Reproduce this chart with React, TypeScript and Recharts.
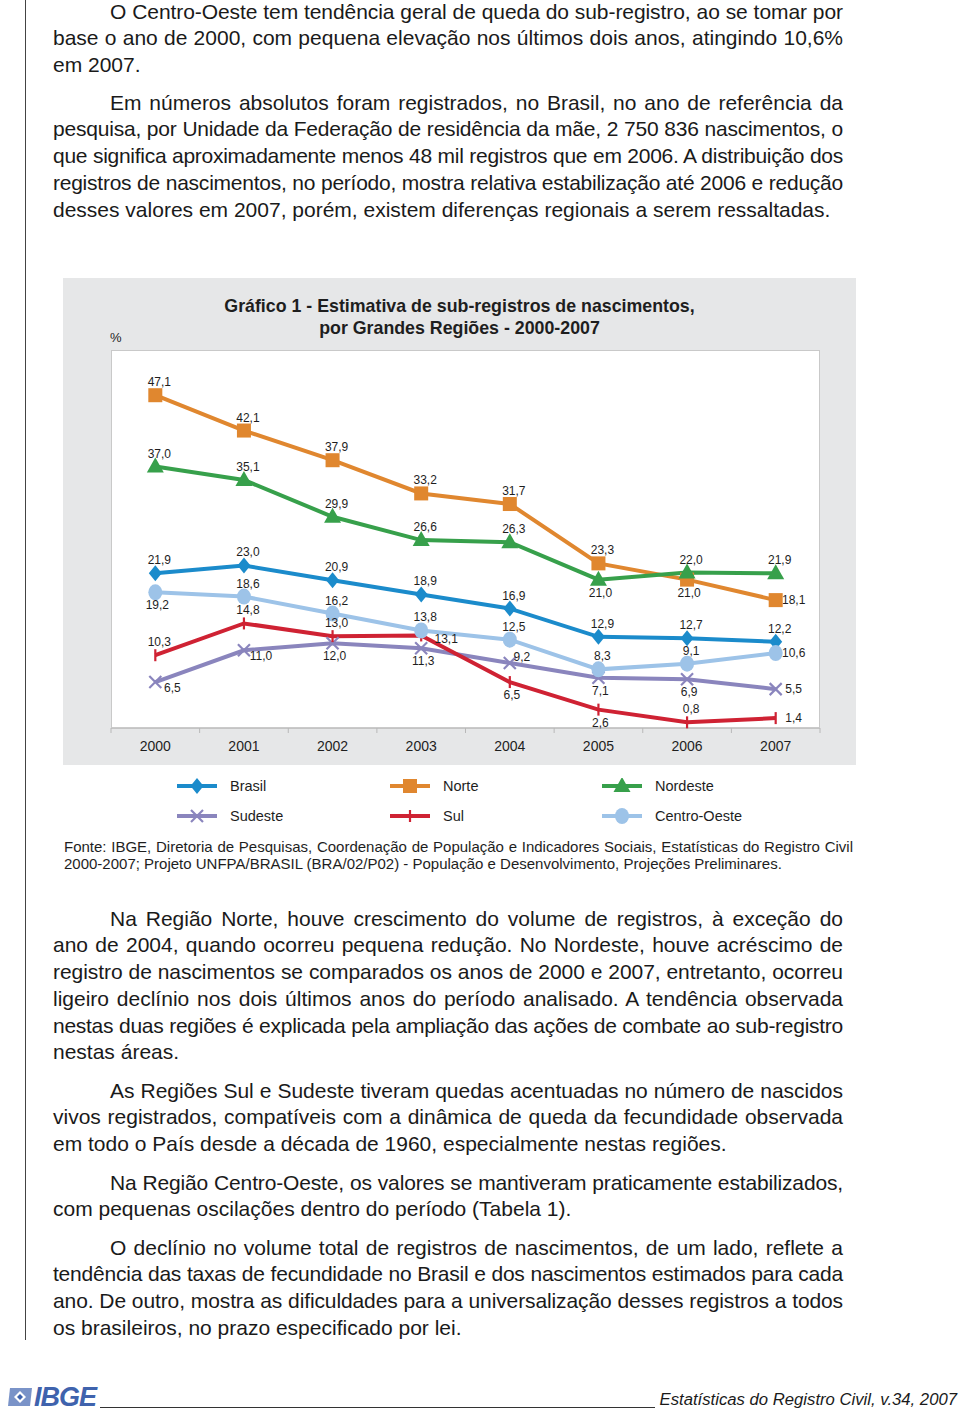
import React, { useLayoutEffect, useRef, useState } from 'react';
import { LineChart, Line, XAxis, YAxis, CartesianGrid, LabelList } from 'recharts';

const years = ['2000', '2001', '2002', '2003', '2004', '2005', '2006', '2007'];
const brasil = [21.9, 23.0, 20.9, 18.9, 16.9, 12.9, 12.7, 12.2];
const norte = [47.1, 42.1, 37.9, 33.2, 31.7, 23.3, 21.0, 18.1];
const nordeste = [37.0, 35.1, 29.9, 26.6, 26.3, 21.0, 22.0, 21.9];
const sudeste = [6.5, 11.0, 12.0, 11.3, 9.2, 7.1, 6.9, 5.5];
const sul = [10.3, 14.8, 13.0, 13.1, 6.5, 2.6, 0.8, 1.4];
const centroOeste = [19.2, 18.6, 16.2, 13.8, 12.5, 8.3, 9.1, 10.6];

const data = years.map((year, i) => ({
  year,
  brasil: brasil[i],
  norte: norte[i],
  nordeste: nordeste[i],
  sudeste: sudeste[i],
  sul: sul[i],
  centroOeste: centroOeste[i],
}));

// where each value label sits relative to its point
const LABEL_OFFSETS: Record<string, [number, number]> = {
  top: [4, -13],
  bottom: [2, 13],
  right: [18, 0],
  farRight: [25, 4],
  rightBelow: [17, 6],
  rightAbove: [12, -6],
};

const SERIES = [
  { key: 'brasil', name: 'Brasil', color: '#1b8bcb', shape: 'diamond',
    labels: ['top', 'top', 'top', 'top', 'top', 'top', 'top', 'top'] },
  { key: 'norte', name: 'Norte', color: '#e0872f', shape: 'square',
    labels: ['top', 'top', 'top', 'top', 'top', 'top', 'bottom', 'right'] },
  { key: 'nordeste', name: 'Nordeste', color: '#37a04b', shape: 'triangle',
    labels: ['top', 'top', 'top', 'top', 'top', 'bottom', 'top', 'top'] },
  { key: 'sudeste', name: 'Sudeste', color: '#8a85bd', shape: 'cross',
    labels: ['rightBelow', 'rightBelow', 'bottom', 'bottom', 'rightAbove', 'bottom', 'bottom', 'right'] },
  { key: 'sul', name: 'Sul', color: '#cf2233', shape: 'plus',
    labels: ['top', 'top', 'top', 'farRight', 'bottom', 'bottom', 'top', 'right'] },
  { key: 'centroOeste', name: 'Centro-Oeste', color: '#9dc3e8', shape: 'circle',
    labels: ['bottom', 'top', 'top', 'top', 'top', 'top', 'top', 'right'] },
];

const CHART_W = 793;
const CHART_H = 487;
const MARGIN = { top: 72, right: 36, bottom: 0, left: 48 };
const PLOT_W = CHART_W - MARGIN.left - MARGIN.right;
const HALF_BAND = PLOT_W / years.length / 2;

const FONT = '"Liberation Sans", Arial, sans-serif';

function Marker({ cx, cy, shape, color }: any) {
  if (cx == null || cy == null) return null;
  switch (shape) {
    case 'diamond':
      return <path d={`M${cx},${cy - 8} L${cx + 6.5},${cy} L${cx},${cy + 8} L${cx - 6.5},${cy} Z`} fill={color} />;
    case 'square':
      return <rect x={cx - 7} y={cy - 7} width={14} height={14} fill={color} />;
    case 'triangle':
      return <path d={`M${cx},${cy - 9} L${cx + 8.5},${cy + 6} L${cx - 8.5},${cy + 6} Z`} fill={color} />;
    case 'circle':
      return <ellipse cx={cx} cy={cy} rx={7} ry={8} fill={color} />;
    case 'cross':
      return (
        <g stroke={color} strokeWidth={2.2}>
          <line x1={cx - 6} y1={cy - 6} x2={cx + 6} y2={cy + 6} />
          <line x1={cx - 6} y1={cy + 6} x2={cx + 6} y2={cy - 6} />
        </g>
      );
    case 'plus':
      return <line x1={cx} y1={cy - 6} x2={cx} y2={cy + 6} stroke={color} strokeWidth={2.2} />;
    default:
      return null;
  }
}

const fmt = (v: number) => v.toFixed(1).replace('.', ',');

function makeLabel(placements: string[]) {
  return (props: any) => {
    const { x, y, value, index } = props;
    if (x == null || y == null) return null;
    const [dx, dy] = LABEL_OFFSETS[placements[index]] ?? LABEL_OFFSETS.top;
    return (
      <text x={x + dx} y={y + dy} textAnchor="middle" dominantBaseline="central"
        fontSize={12} fill="#1e1e1e" fontFamily={FONT}>
        {fmt(Number(value))}
      </text>
    );
  };
}

function YearTick({ x, y, payload, index }: any) {
  const last = index === years.length - 1;
  return (
    <g>
      <line x1={x - HALF_BAND} x2={x - HALF_BAND} y1={y} y2={y + 5} stroke="#b8b8b8" />
      {last && <line x1={x + HALF_BAND} x2={x + HALF_BAND} y1={y} y2={y + 5} stroke="#b8b8b8" />}
      <text x={x} y={y + 18} textAnchor="middle" dominantBaseline="central" fontSize={14}
        fill="#1e1e1e" fontFamily={FONT}>
        {payload.value}
      </text>
    </g>
  );
}

function LegendSwatch({ color, shape }: any) {
  return (
    <svg width={40} height={16} style={{ display: 'block' }}>
      <line x1={0} x2={40} y1={8} y2={8} stroke={color} strokeWidth={4} />
      <Marker cx={20} cy={8} shape={shape} color={color} />
    </svg>
  );
}

// one typeset line: justified, squeezed a little when it would not fit
function FitLine({ text, width, indent, justify, fontSize, lineHeight }: any) {
  const probe = useRef<HTMLSpanElement>(null);
  const [spacing, setSpacing] = useState(0);
  useLayoutEffect(() => {
    const el = probe.current;
    if (!el) return;
    const w = el.getBoundingClientRect().width;
    const avail = width - indent;
    if (w > avail - 2) setSpacing((avail - 2 - w) / text.length);
  }, [text, width, indent]);
  return (
    <div style={{
      position: 'relative', height: lineHeight, lineHeight: `${lineHeight}px`, whiteSpace: 'nowrap',
      paddingLeft: indent, fontSize, letterSpacing: spacing,
      textAlign: 'justify', textAlignLast: justify ? 'justify' : 'left',
    } as any}>
      {text}
      <span ref={probe} style={{ position: 'absolute', left: 0, top: 0, visibility: 'hidden', letterSpacing: 0 }}>{text}</span>
    </div>
  );
}

function Para({ top, lines }: { top: number; lines: string[] }) {
  return (
    <div style={{ position: 'absolute', left: 53, top, width: 790, fontFamily: FONT, color: '#1a1a1a' }}>
      {lines.map((line, i) => (
        <FitLine key={i} text={line} width={790} indent={i === 0 ? 57 : 0}
          justify={i !== lines.length - 1} fontSize={21} lineHeight={26.8} />
      ))}
    </div>
  );
}

const para1 = [
  'O Centro-Oeste tem tendência geral de queda do sub-registro, ao se tomar por',
  'base o ano de 2000, com pequena elevação nos últimos dois anos, atingindo 10,6%',
  'em 2007.',
];
const para2 = [
  'Em números absolutos foram registrados, no Brasil, no ano de referência da',
  'pesquisa, por Unidade da Federação de residência da mãe, 2 750 836 nascimentos, o',
  'que significa aproximadamente menos 48 mil registros que em 2006. A distribuição dos',
  'registros de nascimentos, no período, mostra relativa estabilização até 2006 e redução',
  'desses valores em 2007, porém, existem diferenças regionais a serem ressaltadas.',
];
const para3 = [
  'Na Região Norte, houve crescimento do volume de registros, à exceção do',
  'ano de 2004, quando ocorreu pequena redução. No Nordeste, houve acréscimo de',
  'registro de nascimentos se comparados os anos de 2000 e 2007, entretanto, ocorreu',
  'ligeiro declínio nos dois últimos anos do período analisado. A tendência observada',
  'nestas duas regiões é explicada pela ampliação das ações de combate ao sub-registro',
  'nestas áreas.',
];
const para4 = [
  'As Regiões Sul e Sudeste tiveram quedas acentuadas no número de nascidos',
  'vivos registrados, compatíveis com a dinâmica de queda da fecundidade observada',
  'em todo o País desde a década de 1960, especialmente nestas regiões.',
];
const para5 = [
  'Na Região Centro-Oeste, os valores se mantiveram praticamente estabilizados,',
  'com pequenas oscilações dentro do período (Tabela 1).',
];
const para6 = [
  'O declínio no volume total de registros de nascimentos, de um lado, reflete a',
  'tendência das taxas de fecundidade no Brasil e dos nascimentos estimados para cada',
  'ano. De outro, mostra as dificuldades para a universalização desses registros a todos',
  'os brasileiros, no prazo especificado por lei.',
];

const sourceLines = [
  'Fonte: IBGE, Diretoria de Pesquisas, Coordenação de População e Indicadores Sociais, Estatísticas do Registro Civil',
  '2000-2007; Projeto UNFPA/BRASIL (BRA/02/P02) - População e Desenvolvimento, Projeções Preliminares.',
];

export default function App() {
  return (
    <div style={{ position: 'absolute', left: 0, top: 0, width: 960, height: 1415, background: '#fff', overflow: 'hidden' }}>
      <div style={{ position: 'absolute', left: 25, top: 0, width: 1, height: 1340, background: '#444' }} />

      <Para top={-1.5} lines={para1} />
      <Para top={89.5} lines={para2} />

      {/* chart panel */}
      <div style={{ position: 'absolute', left: 63, top: 278, width: CHART_W, height: CHART_H, background: '#e6e7e8' }}>
        <div style={{
          position: 'absolute', left: 0, top: 17, width: CHART_W, textAlign: 'center',
          fontFamily: FONT, fontWeight: 700, fontSize: 17.8, lineHeight: '22px', color: '#1e1e1e',
        }}>
          <div>Gráfico 1 - Estimativa de sub-registros de nascimentos,</div>
          <div>por Grandes Regiões - 2000-2007</div>
        </div>
        <div style={{ position: 'absolute', left: 47, top: 52, fontFamily: FONT, fontSize: 13, color: '#1e1e1e' }}>%</div>
        <LineChart width={CHART_W} height={CHART_H} data={data} margin={MARGIN}>
          <CartesianGrid horizontal={false} vertical={false} fill="#ffffff" />
          <XAxis dataKey="year" height={37} tickSize={0} tickMargin={0} tickLine={false}
            axisLine={{ stroke: '#b8b8b8', strokeWidth: 1.5 }}
            padding={{ left: HALF_BAND, right: HALF_BAND }} tick={<YearTick />} interval={0} />
          <YAxis hide domain={[0, 53.5]} />
          {SERIES.map((s) => (
            <Line key={s.key} dataKey={s.key} name={s.name} stroke={s.color} strokeWidth={4}
              isAnimationActive={false}
              dot={(p: any) => <Marker key={`${s.key}-${p.index}`} cx={p.cx} cy={p.cy} shape={s.shape} color={s.color} />}
              activeDot={false}>
              <LabelList dataKey={s.key} content={makeLabel(s.labels)} />
            </Line>
          ))}
        </LineChart>
        <div style={{
          position: 'absolute', left: MARGIN.left, top: MARGIN.top, width: PLOT_W, height: CHART_H - MARGIN.top - 37,
          borderTop: '1px solid #c9c9c9', borderLeft: '1px solid #c9c9c9', borderRight: '1px solid #c9c9c9',
          boxSizing: 'border-box', pointerEvents: 'none',
        }} />
      </div>

      {/* legend */}
      {SERIES.map((s, i) => {
        const col = i % 3;
        const row = Math.floor(i / 3);
        const left = [177, 390, 602][col];
        const top = [786, 816][row];
        return (
          <div key={s.key} style={{ position: 'absolute', left, top: top - 8, height: 16, display: 'flex', alignItems: 'center' }}>
            <LegendSwatch color={s.color} shape={s.shape} />
            <span style={{ marginLeft: 13, fontFamily: FONT, fontSize: 14.5, color: '#1e1e1e', lineHeight: '16px' }}>{s.name}</span>
          </div>
        );
      })}

      {/* source */}
      <div style={{ position: 'absolute', left: 64, top: 838, width: 789, fontFamily: FONT, color: '#1e1e1e' }}>
        {sourceLines.map((line, i) => (
          <FitLine key={i} text={line} width={789} indent={0} justify={i === 0} fontSize={15} lineHeight={17} />
        ))}
      </div>

      <Para top={905.5} lines={para3} />
      <Para top={1077.5} lines={para4} />
      <Para top={1169.5} lines={para5} />
      <Para top={1234.5} lines={para6} />

      {/* footer */}
      <svg style={{ position: 'absolute', left: 8, top: 1386 }} width={26} height={22}>
        <path d="M2,2 L24,2 L22,20 L0,20 Z" fill="#7a93c8" />
        <path d="M12,5 L18,11 L12,17 L6,11 Z" fill="#ffffff" />
        <path d="M12,8 L15,11 L12,14 L9,11 Z" fill="#3f63ad" />
      </svg>
      <div style={{
        position: 'absolute', left: 34, top: 1381, fontFamily: FONT, fontWeight: 700, fontStyle: 'italic',
        fontSize: 27, color: '#3f63ad', letterSpacing: -1, lineHeight: '32px',
      }}>IBGE</div>
      <div style={{ position: 'absolute', left: 100, top: 1407, width: 555, height: 1, background: '#333' }} />
      <div style={{
        position: 'absolute', right: 3, top: 1389, textAlign: 'right', fontFamily: FONT,
        fontStyle: 'italic', fontSize: 16.7, color: '#1a1a1a', lineHeight: '22px', whiteSpace: 'nowrap',
      }}>Estatísticas do Registro Civil, v.34, 2007</div>
    </div>
  );
}
